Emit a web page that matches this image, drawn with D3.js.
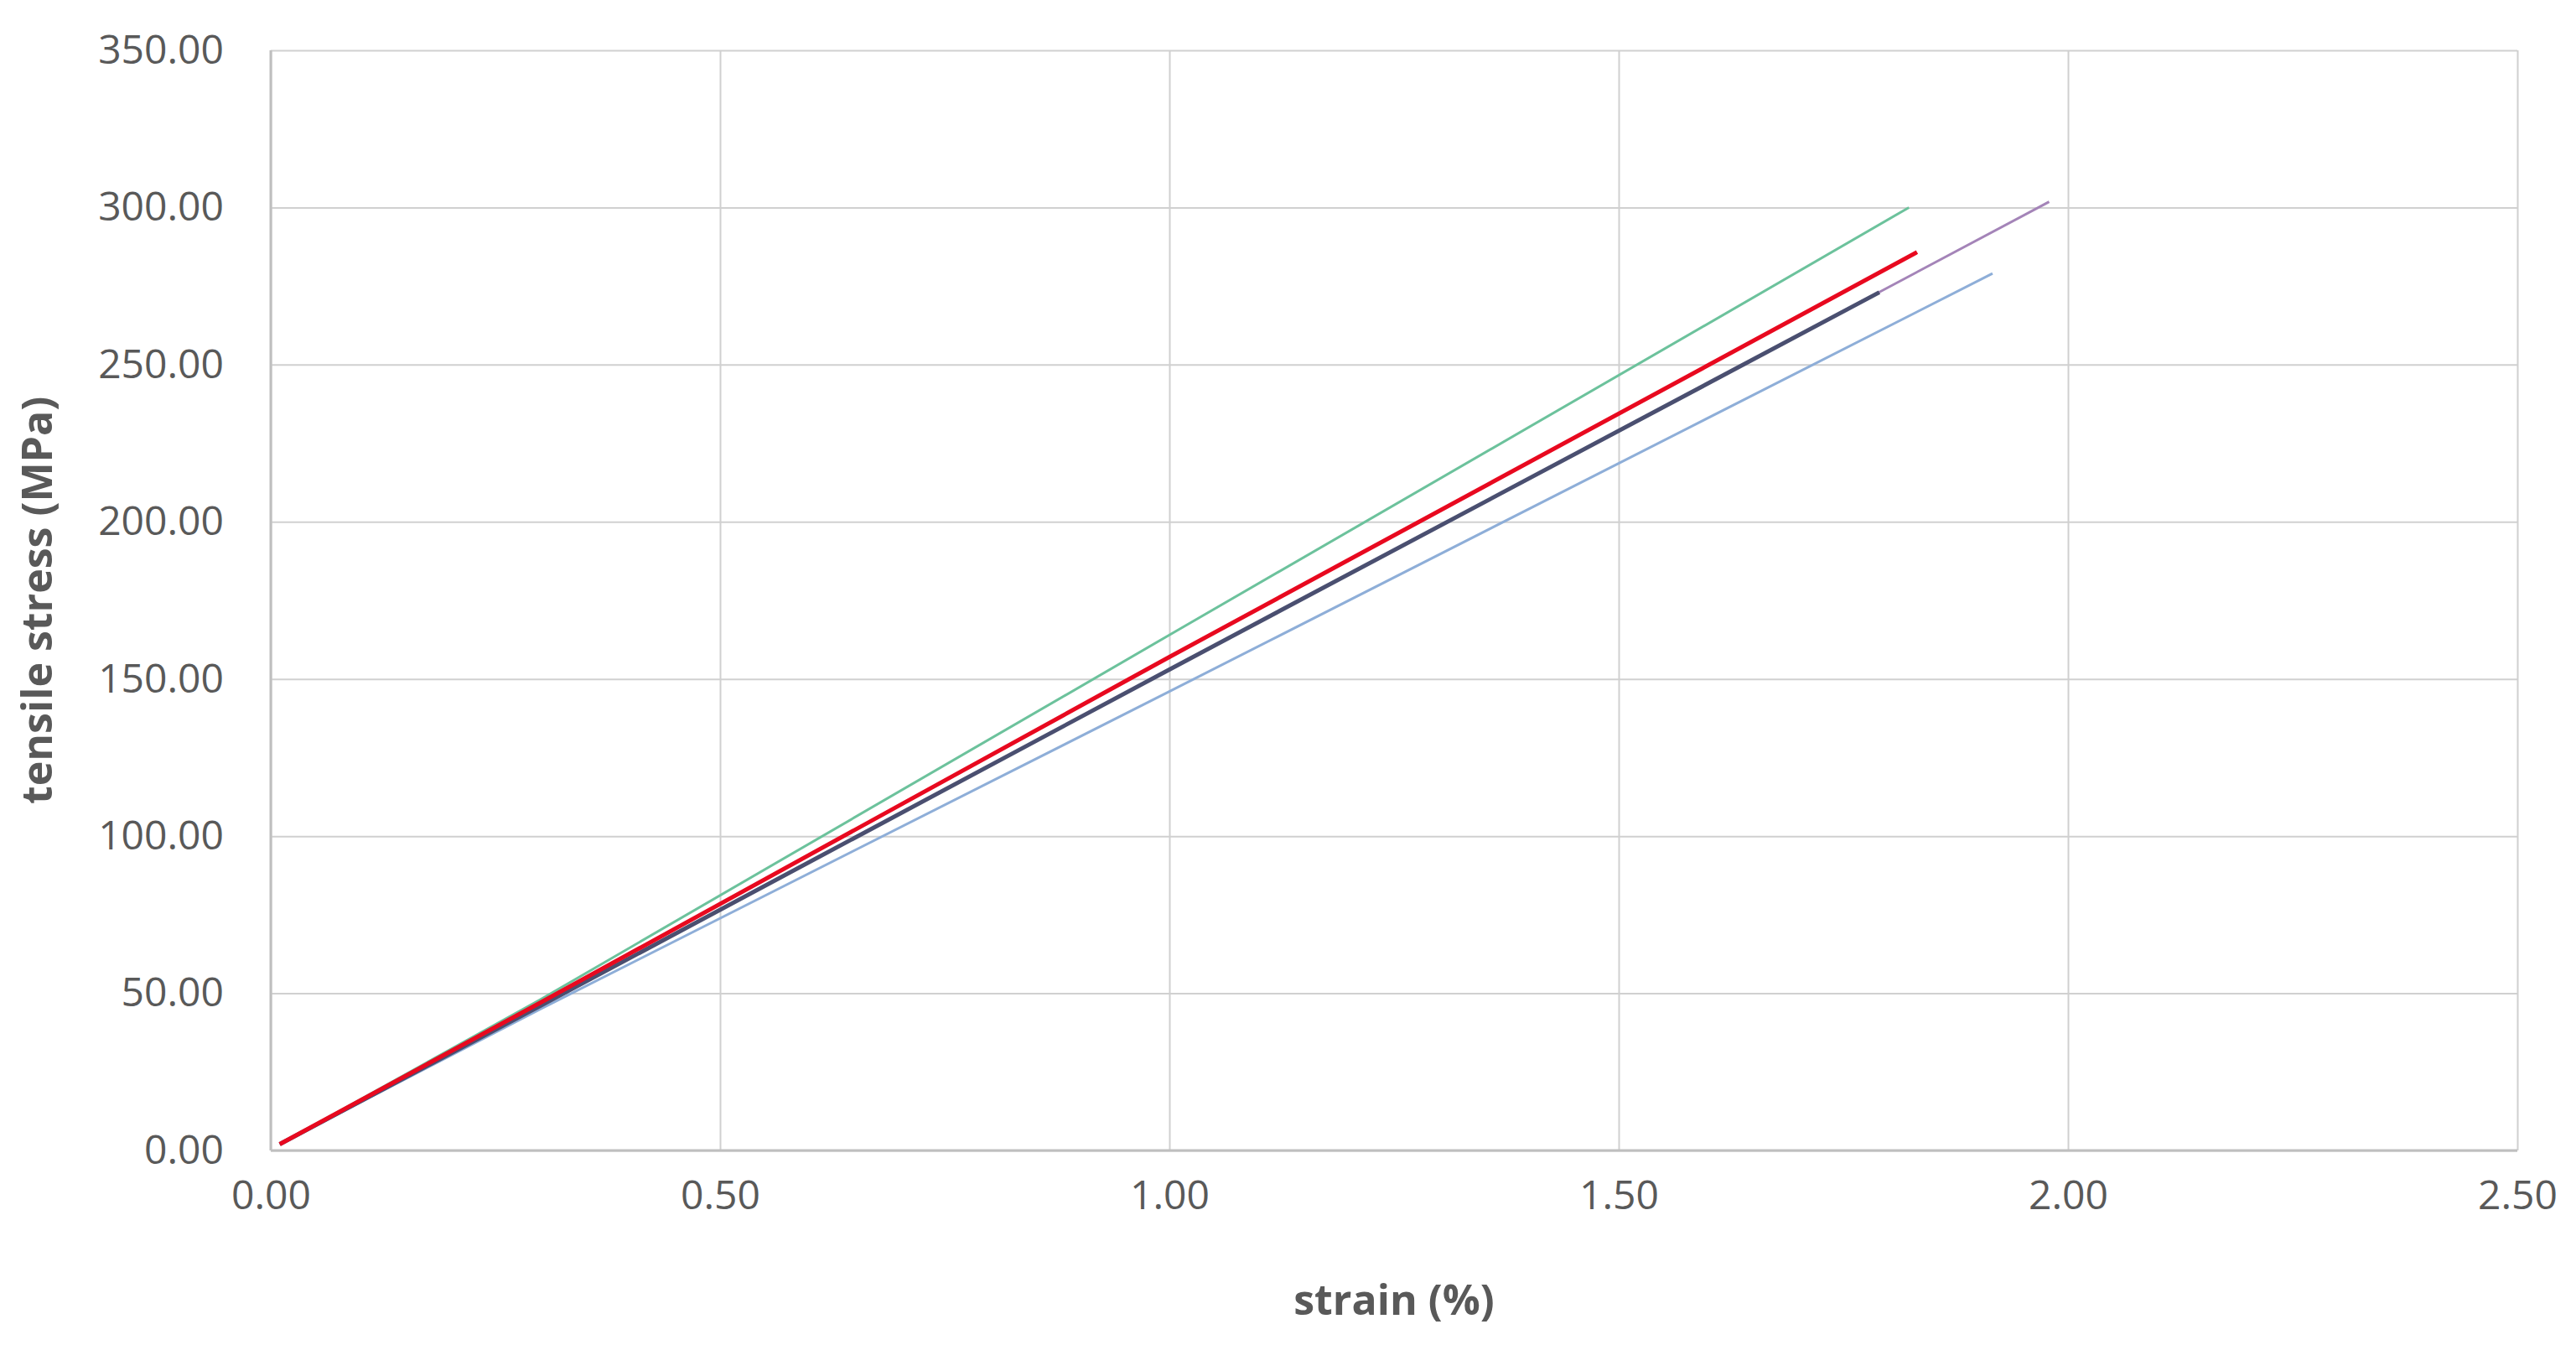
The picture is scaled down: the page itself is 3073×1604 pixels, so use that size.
<!DOCTYPE html>
<html><head><meta charset="utf-8">
<script src="https://cdn.jsdelivr.net/npm/d3@7"></script>
<style>body{margin:0;background:#fff}text{font-family:"Open Sans",sans-serif}</style>
</head><body>
<svg id="chart" width="3073" height="1604"></svg>
<script>
// strain (%) / stress (MPa) per specimen
const seriesNames = ["green", "lightblue", "purple", "navy", "red"]
const seriesColors = ["#6cc29c", "#8eaed8", "#a484b8", "#4a4f70", "#e8091f"]
const seriesWidths = [3, 3, 3, 5, 5]
const strainPts = [
  [0.01, 0.3, 1.0, 1.823],
  [0.01, 0.3, 1.0, 1.916],
  [0.01, 0.3, 1.0, 1.979],
  [0.01, 0.3, 1.0, 1.79],
  [0.01, 0.3, 1.0, 1.832]
]
const stressPts = [
  [2, 48, 164, 300],
  [2, 45, 146, 279],
  [2, 46, 153, 301.8],
  [2, 46, 153, 273],
  [2, 47, 157, 285.8]
]
const xTicks = [0, 0.5, 1, 1.5, 2, 2.5]
const yTicks = [0, 50, 100, 150, 200, 250, 300, 350]

const svg = d3.select("#chart")
const mLeft = 323, mRight = 3003, mTop = 60, mBottom = 1372
const x = d3.scaleLinear().domain([0, 2.5]).range([mLeft, mRight])
const y = d3.scaleLinear().domain([0, 350]).range([mBottom, mTop])

// grid
svg.append("g").attr("transform", `translate(0,${mBottom})`)
  .call(d3.axisBottom(x).tickValues(xTicks).tickSize(-(mBottom - mTop)).tickFormat(d3.format(".2f")))
  .call(g => g.select(".domain").remove())
  .call(g => g.selectAll("line").attr("stroke", "#d0d0d0").attr("stroke-width", 2))
  .call(g => g.selectAll("text").attr("dy", "1.4em").attr("font-size", 48).attr("fill", "#595959"))

svg.append("g").attr("transform", `translate(${mLeft},0)`)
  .call(d3.axisLeft(y).tickValues(yTicks).tickSize(-(mRight - mLeft)).tickFormat(d3.format(".2f")))
  .call(g => g.select(".domain").remove())
  .call(g => g.selectAll("line").attr("stroke", "#d0d0d0").attr("stroke-width", 2))
  .call(g => g.selectAll("text").attr("x", -56).attr("font-size", 48).attr("fill", "#595959"))

svg.append("line").attr("x1", mLeft).attr("x2", mLeft).attr("y1", mTop).attr("y2", mBottom)
  .attr("stroke", "#bfbfbf").attr("stroke-width", 3)
svg.append("line").attr("x1", mLeft).attr("x2", mRight).attr("y1", mBottom).attr("y2", mBottom)
  .attr("stroke", "#bfbfbf").attr("stroke-width", 3)

const line = d3.line().x(d => x(d[0])).y(d => y(d[1]))
seriesNames.forEach((name, i) => {
  const pts = strainPts[i].map((s, j) => [s, stressPts[i][j]])
  svg.append("path").datum(pts).attr("class", "series " + name)
    .attr("d", line).attr("fill", "none")
    .attr("stroke", seriesColors[i]).attr("stroke-width", seriesWidths[i])
})

svg.append("text").attr("x", (mLeft + mRight) / 2).attr("y", 1568)
  .attr("text-anchor", "middle").attr("font-size", 50).attr("font-weight", "bold")
  .attr("fill", "#595959").text("strain (%)")
svg.append("text").attr("transform", `translate(62,${(mTop + mBottom) / 2}) rotate(-90)`)
  .attr("text-anchor", "middle").attr("font-size", 50).attr("font-weight", "bold")
  .attr("fill", "#595959").text("tensile stress (MPa)")
</script>
</body></html>
